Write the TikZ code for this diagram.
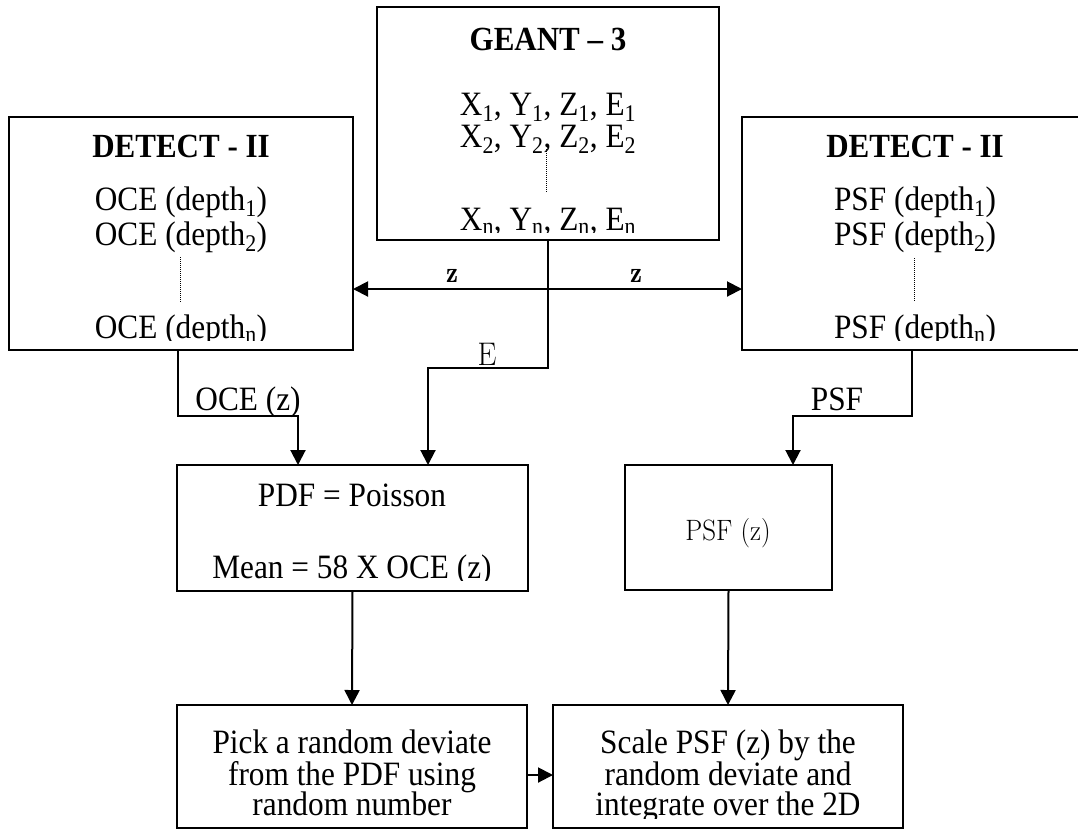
\documentclass[tikz,border=0pt]{standalone}
\usepackage{fontspec}
\setmainfont{Liberation Serif}
\usetikzlibrary{arrows.meta}
\newcommand\lmf{\fontfamily{lmr}\selectfont}
\newcommand\vs[1]{\scalebox{1}[1.09]{#1}}
\begin{document}
\begin{tikzpicture}[x=1pt,y=-1pt]
\tikzset{
 box/.style={draw, line width=2.4pt, inner sep=0pt, outer sep=0pt},
 tx/.style={font=\fontsize{31.3}{35}\selectfont, anchor=base, inner sep=0pt},
 ttl/.style={font=\fontsize{31}{35}\selectfont\bfseries, anchor=base, inner sep=0pt},
 lm/.style={font=\fontsize{30}{34}\selectfont\lmf, anchor=base, inner sep=0pt},
 lmb/.style={font=\fontsize{27}{30}\selectfont\lmf\bfseries, anchor=base, inner sep=0pt},
 conn/.style={line width=2pt},
 arr/.style={conn, -{Triangle[length=15pt,width=15pt]}},
 dots/.style={line width=1pt, dash pattern=on 1pt off 1pt}
}
\useasboundingbox (0,0) rectangle (1078,831);
\clip (0,0) rectangle (1078,831);

% boxes
\node[box, minimum width=342pt, minimum height=233pt] (geant) at (548,123.5) {};
\node[box, minimum width=344pt, minimum height=233pt] (det1) at (181,233.5) {};
\node[box, minimum width=348pt, minimum height=233pt] (det2) at (916,233.5) {};
\node[box, minimum width=351pt, minimum height=126pt] (pdf) at (352.5,528) {};
\node[box, minimum width=207pt, minimum height=125pt] (psfz) at (728.5,527.5) {};
\node[box, minimum width=350pt, minimum height=123pt] (pick) at (352,766.5) {};
\node[box, minimum width=350pt, minimum height=123pt] (scale) at (728,766.5) {};

% GEANT text
\node[ttl] (gt) at (548,50) {\vs{GEANT – 3}};
\node[tx] (g1) at (548,115) {\vs{X\textsubscript{1}, Y\textsubscript{1}, Z\textsubscript{1}, E\textsubscript{1}}};
\node[tx] (g2) at (548,147) {\vs{X\textsubscript{2}, Y\textsubscript{2}, Z\textsubscript{2}, E\textsubscript{2}}};
\draw[dots] (546,149) -- (546,192);
\begin{scope}
\clip (377,195) rectangle (719,232);
\node[tx] (gn) at (548,230) {\vs{X\textsubscript{n}, Y\textsubscript{n}, Z\textsubscript{n}, E\textsubscript{n}}};
\end{scope}

% DETECT left
\node[ttl] (d1t) at (181,157) {\vs{DETECT - II}};
\node[tx] (d11) at (181,210) {\vs{OCE (depth\textsubscript{1})}};
\node[tx] (d12) at (181,245) {\vs{OCE (depth\textsubscript{2})}};
\draw[dots] (180,257) -- (180,302);
\begin{scope}
\clip (9,305) rectangle (353,340.5);
\node[tx] (d1n) at (181,338) {\vs{OCE (depth\textsubscript{n})}};
\end{scope}

% DETECT right
\node[ttl] (d2t) at (915,157) {\vs{DETECT - II}};
\node[tx] (d21) at (915,210) {\vs{PSF (depth\textsubscript{1})}};
\node[tx] (d22) at (915,245) {\vs{PSF (depth\textsubscript{2})}};
\draw[dots] (914,258) -- (914,302);
\begin{scope}
\clip (742,305) rectangle (1078,340.5);
\node[tx] (d2n) at (915,338) {\vs{PSF (depth\textsubscript{n})}};
\end{scope}

% PDF box
\node[tx] (p1) at (352,506) {\vs{PDF = Poisson}};
\begin{scope}
\clip (177,540) rectangle (528,580.5);
\node[tx] (p2) at (352,578) {\vs{Mean = 58 X OCE (z)}};
\end{scope}

% PSF(z) box
\node[lm, font=\fontsize{27}{30}\selectfont\lmf] (pz) at (728,540) {\vs{PSF (z)}};

% Pick box
\node[tx] (k1) at (352,753) {\vs{Pick a random deviate}};
\node[tx] (k2) at (352,785) {\vs{from the PDF using}};
\node[tx] (k3) at (352,815) {\vs{random number}};

% Scale box
\node[tx] (s1) at (728,753) {\vs{Scale PSF (z) by the}};
\node[tx] (s2) at (728,785) {\vs{random deviate and}};
\begin{scope}
\clip (553,790) rectangle (903,818);
\node[tx] (s3) at (728,815) {\vs{integrate over the 2D}};
\end{scope}

% labels
\node[lmb] (lza) at (452,282) {\vs{z}};
\node[lmb] (lzb) at (636,282) {\vs{z}};
\node[lm] (le) at (487,365) {\vs{E}};
\node[tx] (loce) at (248,410) {\vs{OCE (z)}};
\node[tx] (lpsf) at (837,410) {\vs{PSF}};

% connectors
\coordinate (zc) at (geant.south |- 0,289);
\draw[arr] (geant.south) -- ++(0,128) -| ([xshift=75.5pt]pdf.north);
\draw[arr] (zc) -- (det1.east |- zc);
\draw[arr] (zc) -- (det2.west |- zc);
\draw[arr] ([xshift=-3pt]det1.south) -- ++(0,66) -| ([xshift=-54.5pt]pdf.north);
\draw[arr] ([xshift=-4pt]det2.south) -- ++(0,66) -| ([xshift=64.5pt]psfz.north);
\draw[arr] (pdf.south) -- (pick.north);
\draw[arr] (psfz.south) -- (scale.north);
\draw[arr] ([yshift=-8.5pt]pick.east) -- ([yshift=-8.5pt]scale.west);
\end{tikzpicture}
\end{document}
